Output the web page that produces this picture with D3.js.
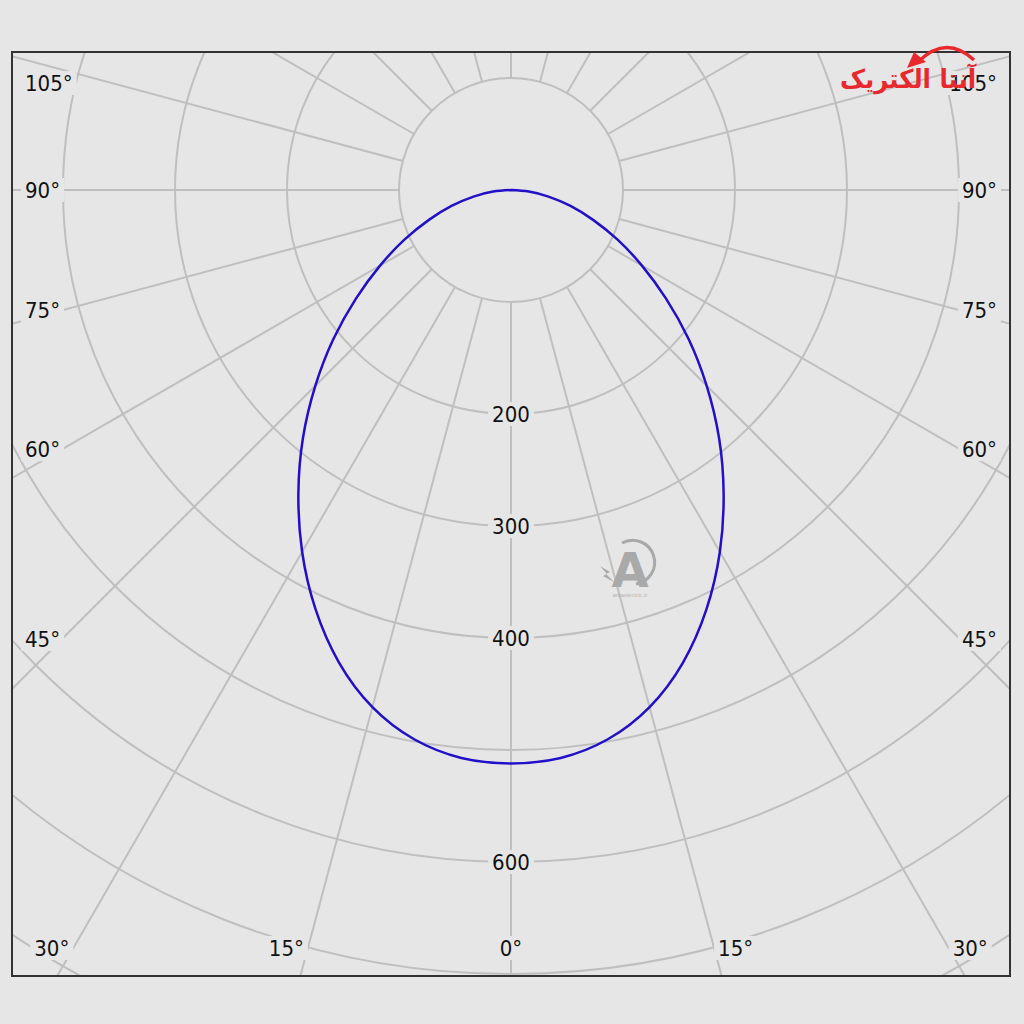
<!DOCTYPE html>
<html>
<head>
<meta charset="utf-8">
<script src="https://cdn.jsdelivr.net/npm/d3@7"></script>
<style>
  html, body { margin: 0; padding: 0; background: #e6e6e6; }
  svg { display: block; }
  .lbl { font-family: "DejaVu Sans Condensed", "DejaVu Sans", sans-serif; font-stretch: condensed; font-size: 22px; fill: #111; }
</style>
</head>
<body>
<div id="chart"></div>
<script>
// luminous intensity (cd) per gamma angle, one half of the symmetric curve
const gammaAngles = [0, 5, 10, 15, 20, 25, 30, 35, 40, 45, 50, 55, 60, 65, 70, 75, 80, 85, 90];
const intensity   = [512, 509, 498, 478, 449, 413, 373, 331, 289, 247, 207, 169, 135, 105, 78, 55, 34, 16, 0];

const rings = [100, 200, 300, 400, 500, 600, 700, 800, 900, 1000];
const ringLabels = [200, 300, 400, 600];
const spokes = d3.range(0, 360, 15);
const angleLabels = [0, 15, 30, 45, 60, 75, 90, 105];

var width = 1024, height = 1024;
const cx = 511, cy = 190;
const frame = { x0: 12, y0: 52, x1: 1010, y1: 976 };
const bg = '#e6e6e6', grid = '#bfbfbf';

var svg = d3.select('#chart').append('svg')
    .attr('width', width)
    .attr('height', height);

svg.append('rect').attr('width', width).attr('height', height).attr('fill', bg);

svg.append('clipPath').attr('id', 'clip')
  .append('rect')
    .attr('x', frame.x0).attr('y', frame.y0)
    .attr('width', frame.x1 - frame.x0).attr('height', frame.y1 - frame.y0);

var r = d3.scaleLinear().domain([0, 100]).range([0, 112]);
var rad = d => d * Math.PI / 180;

var g = svg.append('g').attr('clip-path', 'url(#clip)');
var plot = g.append('g').attr('transform', 'translate(' + cx + ',' + cy + ')');

// rings
plot.selectAll('circle.ring')
  .data(rings)
  .enter().append('circle')
    .attr('class', 'ring')
    .attr('r', d => r(d))
    .attr('fill', 'none')
    .attr('stroke', grid)
    .attr('stroke-width', 2);

// spokes, starting at the first ring
plot.selectAll('line.spoke')
  .data(spokes)
  .enter().append('line')
    .attr('class', 'spoke')
    .attr('x1', d => r(rings[0]) * Math.sin(rad(d)))
    .attr('y1', d => r(rings[0]) * Math.cos(rad(d)))
    .attr('x2', d => r(rings[rings.length - 1]) * Math.sin(rad(d)))
    .attr('y2', d => r(rings[rings.length - 1]) * Math.cos(rad(d)))
    .attr('stroke', grid)
    .attr('stroke-width', 2);

// curve, mirrored on both sides of 0°; stop at the first zero (the origin)
var half = [];
for (var i = 0; i < gammaAngles.length; i++) {
  half.push({ a: gammaAngles[i], v: intensity[i] });
  if (intensity[i] === 0) break;
}
var pts = half.slice(1).reverse().map(d => ({ a: -d.a, v: d.v })).concat(half);

var line = d3.lineRadial()
    .angle(d => Math.PI - rad(d.a))
    .radius(d => r(d.v))
    .curve(d3.curveNatural);

plot.append('path')
    .datum(pts)
    .attr('d', line)
    .attr('fill', 'none')
    .attr('stroke', '#2210c8')
    .attr('stroke-width', 2.5)
    .attr('stroke-linejoin', 'round');

// labels with background boxes
function boxedLabel(x, y, txt, anchor) {
  var grp = svg.append('g');
  var box = grp.append('rect').attr('fill', bg);
  var t = grp.append('text')
      .attr('class', 'lbl')
      .attr('x', x).attr('y', y)
      .attr('dy', '0.36em')
      .attr('text-anchor', anchor)
      .text(txt);
  var b = t.node().getBBox();
  box.attr('x', b.x - 4).attr('y', y - 12).attr('width', b.width + 8).attr('height', 24);
}

ringLabels.forEach(v => boxedLabel(cx, cy + r(v), String(v), 'middle'));

var yBottom = 948, xRight = 960, xLeft = 62;
angleLabels.forEach(a => {
  [1, -1].forEach(s => {
    if (a === 0 && s < 0) return;
    var th = rad(a);
    if (a === 0) { boxedLabel(cx, yBottom, '0°', 'middle'); return; }
    var tb = Math.cos(th) > 0 ? (yBottom - cy) / Math.cos(th) : Infinity;
    var ts = (s > 0 ? xRight - cx : cx - xLeft) / Math.sin(th);
    if (tb < ts) {
      var x = cx + s * (tb * Math.sin(th) + 4);
      boxedLabel(x, yBottom, a + '°', s > 0 ? 'start' : 'end');
    } else {
      var y = Math.max(cy + ts * Math.cos(th), 83);
      boxedLabel(s > 0 ? 997 : 25, y, a + '°', s > 0 ? 'end' : 'start');
    }
  });
});

// frame
svg.append('rect')
    .attr('x', frame.x0).attr('y', frame.y0)
    .attr('width', frame.x1 - frame.x0).attr('height', frame.y1 - frame.y0)
    .attr('fill', 'none')
    .attr('stroke', '#333')
    .attr('stroke-width', 2);

// watermark
var wm = svg.append('g').attr('fill', '#a9a9a9').attr('stroke', '#a9a9a9');
wm.append('path')
    .attr('d', 'M 622 543 A 22 22 0 1 1 636 584')
    .attr('fill', 'none').attr('stroke-width', 3);
wm.append('path')
    .attr('d', 'M 600 566 L 610 572 L 606 574 L 614 582 L 603 576 L 607 574 Z')
    .attr('stroke', 'none');
wm.append('text')
    .attr('x', 630).attr('y', 587)
    .attr('text-anchor', 'middle')
    .attr('stroke', 'none')
    .style('font-family', 'DejaVu Sans, sans-serif')
    .style('font-weight', 'bold')
    .style('font-size', '48px')
    .text('A');
wm.append('text')
    .attr('x', 630).attr('y', 597)
    .attr('text-anchor', 'middle')
    .attr('stroke', 'none')
    .style('font-family', 'DejaVu Sans, sans-serif')
    .style('font-size', '5px')
    .text('antaelectric.ir');

// brand logo
var red = '#e9282e';
var logo = svg.append('g');
logo.append('path')
    .attr('d', 'M 918 62 Q 946 34 974 60')
    .attr('fill', 'none').attr('stroke', red).attr('stroke-width', 3.5);
logo.append('path')
    .attr('d', 'M 907 68 L 914 52 L 926 62 Z')
    .attr('fill', red);
var lt = logo.append('text')
    .attr('x', 0).attr('y', 0)
    .attr('text-anchor', 'end')
    .style('font-family', 'DejaVu Sans, sans-serif')
    .style('font-weight', 'bold')
    .style('font-size', '26px')
    .attr('fill', red)
    .text('آنتا الکتریک');
var lw = lt.node().getComputedTextLength();
lt.attr('transform', 'translate(976,88) scale(' + (136 / lw) + ',1)');
</script>
</body>
</html>
